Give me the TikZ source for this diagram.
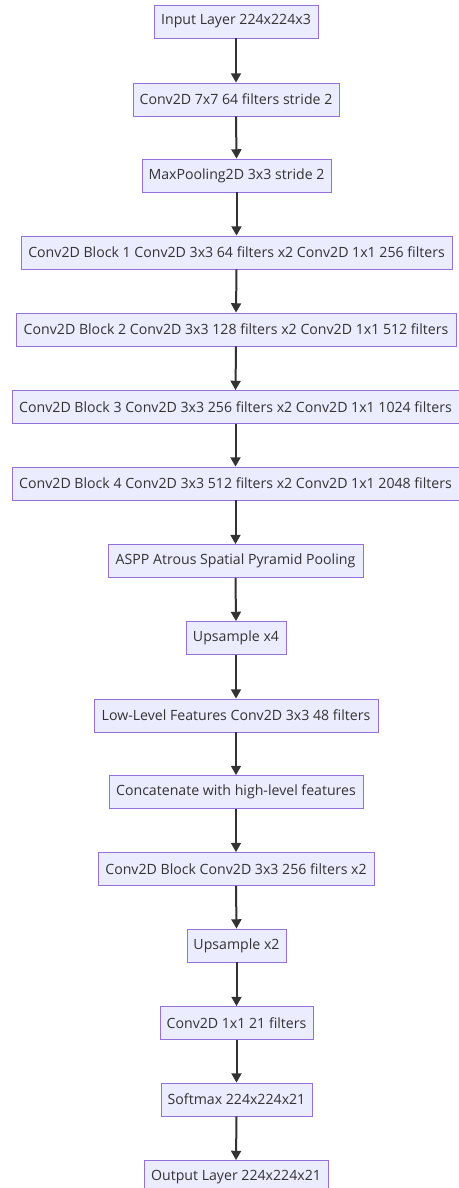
\documentclass[tikz,border=0pt]{standalone}
\usepackage{fontspec}
\setmainfont{Open Sans}
\usetikzlibrary{arrows.meta}
\definecolor{boxfill}{HTML}{ECECFF}
\definecolor{boxline}{HTML}{9370DB}
\definecolor{ink}{HTML}{333333}
\tikzset{
  layerbox/.style={draw=boxline, fill=boxfill, line width=0.6pt, text=ink,
    minimum height=24.75pt, inner sep=0pt, font=\fontsize{10.6pt}{12pt}\selectfont},
  flow/.style={draw=ink, line width=1.5pt, -{Triangle[length=7pt,width=7.5pt]}}
}
\begin{document}
\begin{tikzpicture}[x=0.75pt,y=-0.75pt]
\useasboundingbox (0,0) rectangle (459,1188);
\node[layerbox, minimum width=123pt] (n1) at (236,21.5) {Input Layer 224x224x3};
\node[layerbox, minimum width=154.5pt] (n2) at (236,99.5) {Conv2D 7x7 64 filters stride 2};
\node[layerbox, minimum width=141.75pt] (n3) at (236.5,175.5) {MaxPooling2D 3x3 stride 2};
\node[layerbox, minimum width=323.25pt] (n4) at (236.5,252.5) {Conv2D Block 1 Conv2D 3x3 64 filters x2 Conv2D 1x1 256 filters};
\node[layerbox, minimum width=330pt] (n5) at (236,329.5) {Conv2D Block 2 Conv2D 3x3 128 filters x2 Conv2D 1x1 512 filters};
\node[layerbox, minimum width=335.25pt] (n6) at (235.5,407) {Conv2D Block 3 Conv2D 3x3 256 filters x2 Conv2D 1x1 1024 filters};
\node[layerbox, minimum width=335.25pt] (n7) at (235.5,483.5) {Conv2D Block 4 Conv2D 3x3 512 filters x2 Conv2D 1x1 2048 filters};
\node[layerbox, minimum width=191.25pt] (n8) at (235.5,561) {ASPP Atrous Spatial Pyramid Pooling};
\node[layerbox, minimum width=75pt] (n9) at (236,638) {Upsample x4};
\node[layerbox, minimum width=213pt] (n10) at (236,715.5) {Low-Level Features Conv2D 3x3 48 filters};
\node[layerbox, minimum width=190.5pt] (n11) at (236,792) {Concatenate with high-level features};
\node[layerbox, minimum width=207pt] (n12) at (236,869) {Conv2D Block Conv2D 3x3 256 filters x2};
\node[layerbox, minimum width=74.25pt] (n13) at (236.5,945.5) {Upsample x2};
\node[layerbox, minimum width=114.75pt] (n14) at (236.5,1023) {Conv2D 1x1 21 filters};
\node[layerbox, minimum width=113.25pt] (n15) at (236.5,1099.5) {Softmax 224x224x21};
\node[layerbox, minimum width=138pt] (n16) at (236,1177) {Output Layer 224x224x21};
\foreach \a/\b in {n1/n2,n2/n3,n3/n4,n4/n5,n5/n6,n6/n7,n7/n8,n8/n9,n9/n10,n10/n11,n11/n12,n12/n13,n13/n14,n14/n15,n15/n16}
  \draw[flow] (\a.south) -- (\b.north);
\end{tikzpicture}
\end{document}
